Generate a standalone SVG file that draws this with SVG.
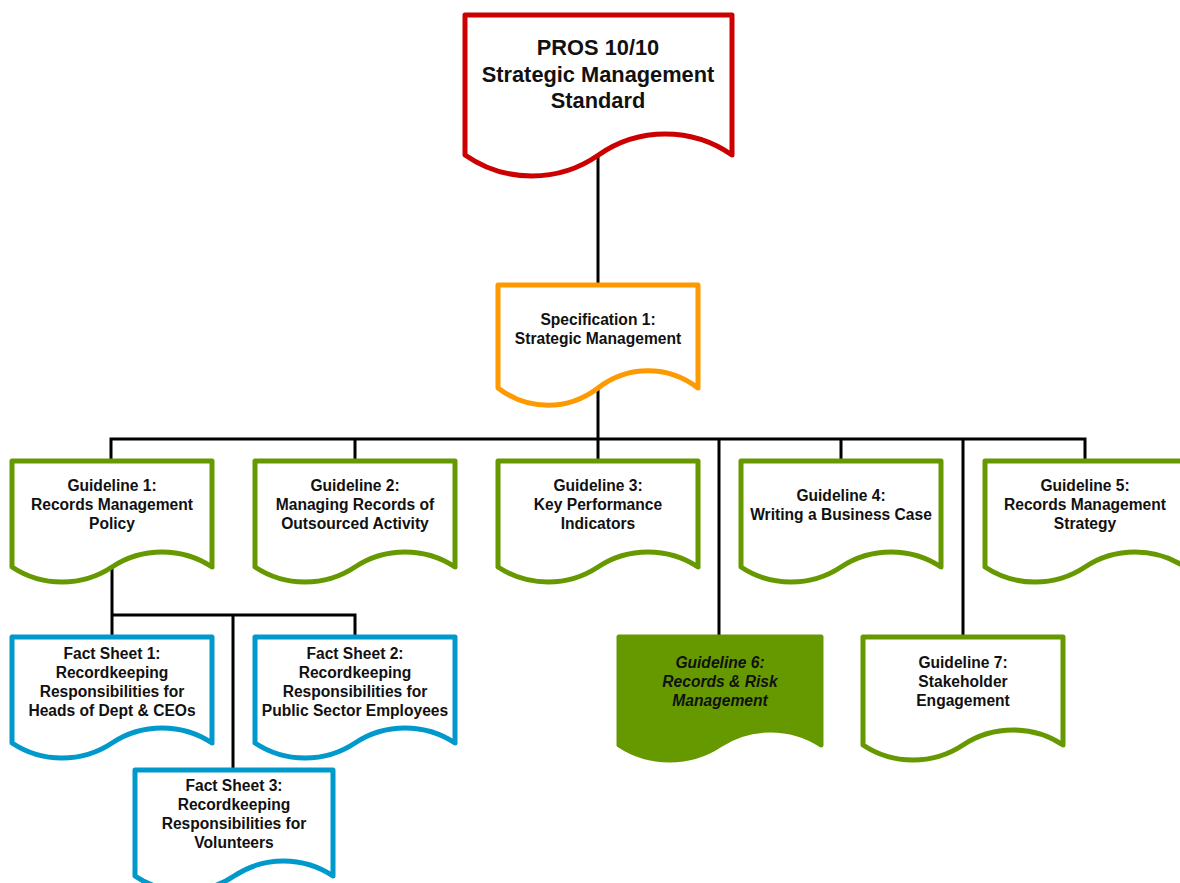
<svg xmlns="http://www.w3.org/2000/svg" width="1180" height="883" viewBox="0 0 1180 883">
<style>
.doc{fill:#fff;stroke-width:5;stroke-linejoin:round}
.red{stroke:#CC0000}
.org{stroke:#FF9900}
.grn{stroke:#669900}
.blu{stroke:#0099CC}
.fill{fill:#669900}
text{font-family:"Liberation Sans",Arial,sans-serif;font-weight:bold;fill:#111;text-anchor:middle}
.t20{font-size:21.8px}
.t14{font-size:15.6px}
.it{font-style:italic}
.con{stroke:#000;stroke-width:3;fill:none}
</style>
<rect width="1180" height="883" fill="#fff"/>
<g id="connectors">
<path class="con" d="M598,155 V285"/>
<path class="con" d="M598,388 V439"/>
<path class="con" d="M111,461 V439 H1085 V461"/>
<path class="con" d="M355,439 V461"/>
<path class="con" d="M598,439 V461"/>
<path class="con" d="M841,439 V461"/>
<path class="con" d="M719,439 V637"/>
<path class="con" d="M963,439 V637"/>
<path class="con" d="M112,567 V637"/>
<path class="con" d="M112,615 H355 V637"/>
<path class="con" d="M233,615 V770"/>
</g>
<g id="pros">
<path class="doc red" d="M465,15 H732 V155 C692,127 638.5,127 598.5,155 C558.5,183 505,183 465,155 Z"/>
<text class="t20" x="598" y="55">PROS 10/10</text>
<text class="t20" x="598" y="82">Strategic Management</text>
<text class="t20" x="598" y="108">Standard</text>
</g>
<g id="spec1">
<path class="doc org" d="M498,285 H698 V388 C668,365 628,365 598,388 C568,411 528,411 498,388 Z"/>
<text class="t14" x="598" y="325">Specification 1:</text>
<text class="t14" x="598" y="344">Strategic Management</text>
</g>
<g id="g1">
<path class="doc grn" d="M12,461 H212 V567 C182,547 142,547 112,567 C82,587 42,587 12,567 Z"/>
<text class="t14" x="112" y="491">Guideline 1:</text>
<text class="t14" x="112" y="510">Records Management</text>
<text class="t14" x="112" y="529">Policy</text>
</g>
<g id="g2">
<path class="doc grn" d="M255,461 H455 V567 C425,547 385,547 355,567 C325,587 285,587 255,567 Z"/>
<text class="t14" x="355" y="491">Guideline 2:</text>
<text class="t14" x="355" y="510">Managing Records of</text>
<text class="t14" x="355" y="529">Outsourced Activity</text>
</g>
<g id="g3">
<path class="doc grn" d="M498,461 H698 V567 C668,547 628,547 598,567 C568,587 528,587 498,567 Z"/>
<text class="t14" x="598" y="491">Guideline 3:</text>
<text class="t14" x="598" y="510">Key Performance</text>
<text class="t14" x="598" y="529">Indicators</text>
</g>
<g id="g4">
<path class="doc grn" d="M741,461 H941 V567 C911,547 871,547 841,567 C811,587 771,587 741,567 Z"/>
<text class="t14" x="841" y="501">Guideline 4:</text>
<text class="t14" x="841" y="520">Writing a Business Case</text>
</g>
<g id="g5">
<path class="doc grn" d="M985,461 H1185 V567 C1155,547 1115,547 1085,567 C1055,587 1015,587 985,567 Z"/>
<text class="t14" x="1085" y="491">Guideline 5:</text>
<text class="t14" x="1085" y="510">Records Management</text>
<text class="t14" x="1085" y="529">Strategy</text>
</g>
<g id="g6">
<path class="doc grn fill" d="M619,637 H821 V745 C791,725 750,725 720,745 C690,765 649,765 619,745 Z"/>
<text class="t14 it" x="720" y="668">Guideline 6:</text>
<text class="t14 it" x="720" y="687">Records &amp; Risk</text>
<text class="t14 it" x="720" y="706">Management</text>
</g>
<g id="g7">
<path class="doc grn" d="M863,637 H1063 V745 C1033,725 993,725 963,745 C933,765 893,765 863,745 Z"/>
<text class="t14" x="963" y="668">Guideline 7:</text>
<text class="t14" x="963" y="687">Stakeholder</text>
<text class="t14" x="963" y="706">Engagement</text>
</g>
<g id="fs1">
<path class="doc blu" d="M12,637 H212 V743 C182,723 142,723 112,743 C82,763 42,763 12,743 Z"/>
<text class="t14" x="112" y="659">Fact Sheet 1:</text>
<text class="t14" x="112" y="678">Recordkeeping</text>
<text class="t14" x="112" y="697">Responsibilities for</text>
<text class="t14" x="112" y="716">Heads of Dept &amp; CEOs</text>
</g>
<g id="fs2">
<path class="doc blu" d="M255,637 H455 V743 C425,723 385,723 355,743 C325,763 285,763 255,743 Z"/>
<text class="t14" x="355" y="659">Fact Sheet 2:</text>
<text class="t14" x="355" y="678">Recordkeeping</text>
<text class="t14" x="355" y="697">Responsibilities for</text>
<text class="t14" x="355" y="716">Public Sector Employees</text>
</g>
<g id="fs3">
<path class="doc blu" d="M135,770 H333 V876 C303,856 264,856 234,876 C204,896 165,896 135,876 Z"/>
<text class="t14" x="234" y="791">Fact Sheet 3:</text>
<text class="t14" x="234" y="810">Recordkeeping</text>
<text class="t14" x="234" y="829">Responsibilities for</text>
<text class="t14" x="234" y="848">Volunteers</text>
</g>
</svg>
